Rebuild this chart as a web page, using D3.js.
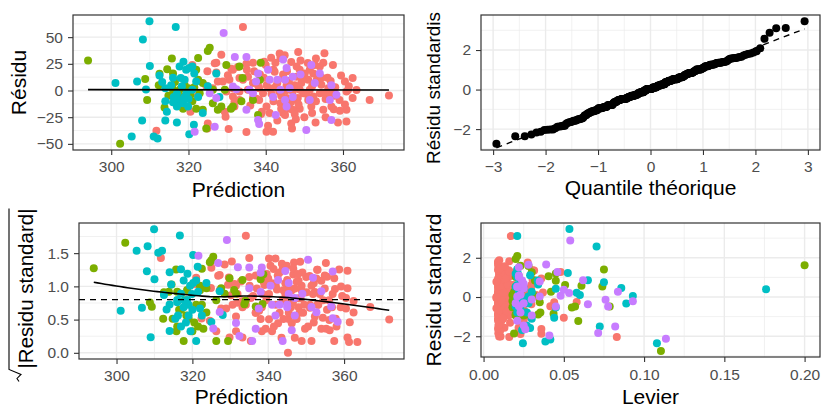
<!DOCTYPE html>
<html>
<head>
<meta charset="utf-8">
<script src="https://cdn.jsdelivr.net/npm/d3@7"></script>
<style>
  body { margin: 0; background: #fff; }
  svg text { font-family: "Liberation Sans", Arial, Helvetica, sans-serif; }
</style>
</head>
<body>
<svg id="chart" width="825" height="408"></svg>
<script>
// ---- donnees : [prediction, residu, levier] par groupe ----
const groupeA = [ // rouge
  [334.1,59.4,.017],[328.5,33.6,.0275],[321,24,.048],[311.7,-37.7,.083],[320.5,-20,.05],
  [324.9,-35.5,.036],[329.6,-24.5,.025],[330.4,-36,.023],[335,-39,.016],[340.2,-38.7,.0106],
  [341.9,-38.7,.0097],[346.8,-35.5,.0092],[352.9,-30,.013],[358.7,-30,.0218],[360.9,-29,.026],
  [360.9,-18,.026],[354.9,-18,.0157],[357.6,-17.6,.0198],[366.9,-9,.0416],[371.9,-4.7,.058],
  [362.5,11.6,.0298],[360.5,8.5,.0253],[360.9,-1,.026],[362.5,-7,.0298],[360.5,-13,.0253],
  [357,-15,.0188],[354.9,26,.0157],[355.2,35,.016],[348.4,36,.0098],[343.8,30.5,.0091],
  [342,19.5,.0096],[339.6,27,.011],[336.7,26,.0137],[335.1,19.5,.0157],[334.1,10,.017],
  [331.5,19.5,.0214],[330.6,10,.023],[327.2,26,.0305],[324.9,18,.036],[327.6,8.5,.0296],
  [326.3,2,.0328],[331.5,-5.7,.0214],[333.2,-9,.0185],[331.9,-15,.0207],[336.7,-7,.0137],
  [339.3,-2.5,.0112],[340.2,-15,.0106],[341,-21,.01],[344.5,-21,.009],[346.2,-17,.009],
  [343.8,-12,.009],[348,-9,.0096],[348.8,-17,.01],[349.2,7,.0102],[348,13,.0096],
  [348.8,19.5,.01],[350.1,16,.0108],[351,10,.0114],[352.3,16,.0126],[353.2,10,.0136],
  [354,22.6,.0145],[351.4,0.6,.0118],[349.7,-2.5,.0105],[354,-2.5,.0145],[355.3,-2.5,.0162],
  [356.2,2.2,.0175],[357.4,0.6,.0195],[359.1,-9,.0225],[351.8,-15,.0121],[346.2,3.8,.009],
  [345.4,5,.009],[344.5,11.6,.009],[342.6,3.8,.0094],[341,2,.01],[338.3,2,.012],
  [336.7,7,.0137],[335.4,0.6,.0153],[333.2,-1,.0185],[331.5,2,.0214],[329.8,-1,.0247],
  [328.9,8.5,.0266],[333.2,11.6,.0185],[335.4,13,.0153],[347,-18,.0093],[345,-23,.009],
  [351.4,19.5,.0118],[352.7,24,.013],[353.6,15,.014],[348,22.6,.0096],[348.8,0.6,.01],
  [352.3,-5.7,.0126],[354.4,5.3,.015],[347,-1,.0093],[338.3,-9,.012],[342,-10,.0096],
  [345.4,-7,.009],[350.9,25.7,.0114],[357.4,24,.0195],[361.3,0.5,.027],[359.2,-19,.0227],
  [347.5,-22,.0094],[356.1,-4.7,.0174],[357.8,-5,.02],[351,-8.8,.0114],[348.3,-7,.0097],
  [326.8,25.6,.0315],[331.1,20.5,.022],[332.8,22,.019],[335,25,.016],[330.2,14.3,.024],
  [342.3,17.5,.0095],[343.6,34.6,.009],[344.9,33,.009],[346.6,26.7,.009],[341.4,30.6,.0099],
  [340.2,4.9,.0106],[337.6,-7.7,.0127],[331.9,-10.8,.0207],[329.4,-20,.0255],[325,-31,.036],
  [340.6,-33,.0103],[346.6,-31,.009],[344,-17,.009],[322.4,-5,.044],[324.6,4.4,.037],
  [327.2,16.9,.0305],[338.5,15,.012],[350,-25,.0107],[356,12,.017],[339,-20,.0115],
  [338,5,.0123],[339.5,12,.011],[341.5,-3,.0098],[343,7,.0093],[344,-5,.009],
  [346,9,.009],[347.5,5,.0094],[348.5,-13,.0098],[349.5,10,.0104],[350.5,-3,.011],
  [352,4,.0123],[353,-10,.0133],[354.5,12,.0151],[355.5,-8,.0165],[356.8,9,.0185],
  [358,3,.0205],[359.5,14,.0233],[361.5,4,.0275],[363.5,0.5,.032],[337,18,.0133],
  [340,24,.0107],[342.5,26,.0094],[345.5,18,.009],[349,28,.0101],[353,30,.0133],
  [336,-14,.0145],[338.8,-22,.0116],[343,-28,.0093],[347.8,-27,.0095],[352,-21,.0123],
  [355.5,-25,.0165],[344.5,15,.008],[343.5,-1,.008],[346.5,-11,.008],[345.2,0,.008]
];
const groupeB = [ // vert
  [294,28,.2],[302.3,-50,.1105],[308.8,10.7,.061],[309.3,-9,.057],[312.5,15.7,.045],
  [312.3,5,.042],[313.8,-16,.0436],[314.5,20,.0405],[315.7,30,.028],[316,16,.032],
  [315.8,2,.031],[316,-3,.025],[317.7,0.6,.022],[318.4,-6,.019],[318.6,-17,.027],
  [320,2,.018],[322.5,30.5,.023],[322,19.5,.02],[322.5,10,.02],[321,-10,.018],
  [322,-17,.02],[323.7,-18,.02],[325,37,.02],[325.5,40,.021],[324.6,-35.5,.019],
  [326.3,0.6,.021],[326.3,-12,.022],[327.6,-18,.025],[328.5,-15,.026],[329.8,24,.03],
  [329.4,0.6,.028],[331.5,-15,.0354],[333.2,22.6,.045],[334,11.6,.0508],[333.7,-10,.055],
  [338,-23,.059],[338.5,10,.074],[338.7,26,.075],[336.7,-9,.0786],[323.7,7,.02],
  [322.9,-2.5,.019],[331,-17,.034],[317,-8,.022],[319,5,.019],[320.5,-4,.018],
  [316.5,8,.024],[318,-12,.021],[321.5,3,.019],[314.8,-5,.035]
];
const groupeC = [ // cyan
  [309.9,65,.0535],[316.7,59.4,.021],[308.2,47.8,.0704],[310,23,.0525],[301.1,7,.176],
  [306.7,8.5,.0858],[309,1,.093],[312.5,14,.075],[314,2,.06],[314,-10,.045],
  [314.4,-20,.044],[314,-28,.027],[308,-28,.0724],[317,-30,.029],[305.3,-43,.108],
  [311,-43,.0385],[312,-45,.0245],[320.2,-41,.0416],[321.4,-32,.024],[323.7,-21,.03],
  [317.7,22.6,.0214],[318.7,27,.021],[319.4,19.5,.021],[320.2,21,.029],[318,11.6,.021],
  [319,10,.02],[321,22.6,.02],[321.5,16,.0337],[322,8.5,.025],[317.7,-9,.02],
  [318.6,-12,.023],[319,-6,.022],[321,0.6,.028],[322.5,-6,.027],[325,4,.058],
  [327.2,16,.065],[328,-6,.0889],[316,12,.034],[316,-11,.022],[317,-15,.027],
  [319.9,-15,.021],[315.5,5,.03],[317,-3,.025],[318.3,4,.022],[320,-8,.021],
  [316.2,-6,.028],[319.5,-2,.021],[313.2,8,.045]
];
const groupeD = [ // violet
  [329.1,54,.054],[332,31.4,.039],[335,31.4,.028],[326.8,-34,.0714],[321.6,-38.7,.1136],
  [331.5,3.8,.0533],[332.4,1.2,.048],[335.8,0.6,.035],[337.5,8.5,.025],[338,16,.024],
  [340.6,19.5,.022],[341,10,.021],[341.9,-6,.02],[342.6,-23,.021],[338,-27.7,.025],
  [338.3,-31.4,.026],[335,-18,.03],[344.5,29,.022],[345.4,21,.022],[345,10,.022],
  [346.2,2.2,.023],[345,-9,.022],[345.4,-15,.023],[347,13,.025],[347,-6,.025],
  [350.5,-37,.041],[351.4,-9,.045],[351.8,24,.046],[352.7,7,.05],[357,5,.0837],
  [357,-27.7,.082],[356.6,-9,.0776],[358.3,-4,.093],[336.7,-2.5,.03],[343.8,0.6,.021],
  [343,10,.021],[325.5,-2.5,.076],[327.2,-7,.065],[354,16,.062],[349,15,.035]
];
const couleurs = ["#F8766D", "#7CAE00", "#00BFC4", "#C77CFF"];
const ordreDessin = [0, 1, 2, 3];

const sigma = 19.3;        // ecart-type residuel
const ligneRef = 0.8;      // ligne pointillee du graphe echelle-localisation

const ticksPrediction = [300, 320, 340, 360];
const ticksResidu = [-50, -25, 0, 25, 50];
const ticksQuantile = [-3, -2, -1, 0, 1, 2, 3];
const ticksStd = [-2, 0, 2];
const ticksRacine = [0, 0.5, 1, 1.5];
const ticksLevier = [0, 0.05, 0.1, 0.15, 0.2];

// ---- calculs ----
const groupes = [groupeA, groupeB, groupeC, groupeD];
let points = [];
ordreDessin.forEach(gi => {
  groupes[gi].forEach(([f, r, h]) => {
    const std = r / (sigma * Math.sqrt(1 - h));
    points.push({f: f, r: r, h: h, gi: gi, std: std, rac: Math.sqrt(Math.abs(std))});
  });
});

function qnorm(p) {
  const a = [-3.969683028665376e+01, 2.209460984245205e+02, -2.759285104469687e+02, 1.383577518672690e+02, -3.066479806614716e+01, 2.506628277459239e+00];
  const b = [-5.447609879822406e+01, 1.615858368580409e+02, -1.556989798598866e+02, 6.680131188771972e+01, -1.328068155288572e+01];
  const c = [-7.784894002430293e-03, -3.223964580411365e-01, -2.400758277161838e+00, -2.549732539343734e+00, 4.374664141464968e+00, 2.938163982698783e+00];
  const d = [7.784695709041462e-03, 3.224671290700398e-01, 2.445134137142996e+00, 3.754408661907416e+00];
  const pl = 0.02425;
  let q, r;
  if (p < pl) {
    q = Math.sqrt(-2 * Math.log(p));
    return (((((c[0]*q+c[1])*q+c[2])*q+c[3])*q+c[4])*q+c[5]) / ((((d[0]*q+d[1])*q+d[2])*q+d[3])*q+1);
  }
  if (p > 1 - pl) return -qnorm(1 - p);
  q = p - 0.5; r = q * q;
  return (((((a[0]*r+a[1])*r+a[2])*r+a[3])*r+a[4])*r+a[5])*q / (((((b[0]*r+b[1])*r+b[2])*r+b[3])*r+b[4])*r+1);
}

const n = points.length;
const stdTries = points.map(p => p.std).sort(d3.ascending);
const qq = stdTries.map((s, i) => ({t: qnorm((i + 0.5) / n), s: s}));
const y1 = d3.quantile(stdTries, 0.25), y3 = d3.quantile(stdTries, 0.75);
const x1 = qnorm(0.25), x3 = qnorm(0.75);
const qqPente = (y3 - y1) / (x3 - x1);
const qqOrig = y1 - qqPente * x1;

// loess local (poids tricube), degre 1
function loess(xs, ys, span, grille) {
  const m = xs.length, q = Math.floor(m * span);
  return grille.map(x0 => {
    const dist = xs.map(x => Math.abs(x - x0));
    const h = dist.slice().sort(d3.ascending)[q - 1];
    let sw = 0, swx = 0, swy = 0, swxx = 0, swxy = 0;
    for (let i = 0; i < m; i++) {
      const u = dist[i] / h;
      if (u >= 1) continue;
      const w = Math.pow(1 - u*u*u, 3);
      const t = xs[i] - x0;
      sw += w; swx += w * t; swy += w * ys[i]; swxx += w * t * t; swxy += w * t * ys[i];
    }
    const pente = (sw * swxy - swx * swy) / (sw * swxx - swx * swx);
    return [x0, (swy - pente * swx) / sw];
  });
}

function etendue(vals) {
  const [lo, hi] = d3.extent(vals);
  const e = (hi - lo) * 0.05;
  return [lo - e, hi + e];
}

function mineurs(majeurs, dom) {
  const pas = majeurs[1] - majeurs[0];
  const out = majeurs.map(v => v - pas / 2).concat([majeurs[majeurs.length - 1] + pas / 2]);
  return out.filter(v => v > dom[0] && v < dom[1]);
}

// ---- dessin ----
const svg = d3.select("#chart");
const defs = svg.append("defs");

function panneau(cfg) {
  const b = cfg.box;
  defs.append("clipPath").attr("id", "cell" + cfg.id)
    .append("rect").attr("x", cfg.cell[0]).attr("y", cfg.cell[1]).attr("width", cfg.cell[2]).attr("height", cfg.cell[3]);
  defs.append("clipPath").attr("id", "plot" + cfg.id)
    .append("rect").attr("x", b.l).attr("y", b.t).attr("width", b.r - b.l).attr("height", b.b - b.t);

  const g = svg.append("g").attr("clip-path", "url(#cell" + cfg.id + ")");
  const x = d3.scaleLinear().domain(cfg.xDom).range([b.l, b.r]);
  const y = d3.scaleLinear().domain(cfg.yDom).range([b.b, b.t]);

  g.append("rect").attr("x", b.l).attr("y", b.t).attr("width", b.r - b.l).attr("height", b.b - b.t).attr("fill", "#fff");

  const grille = g.append("g").attr("stroke", "#EBEBEB");
  mineurs(cfg.xTicks, cfg.xDom).forEach(v => grille.append("line").attr("x1", x(v)).attr("x2", x(v)).attr("y1", b.t).attr("y2", b.b).attr("stroke-width", 0.7));
  mineurs(cfg.yTicks, cfg.yDom).forEach(v => grille.append("line").attr("y1", y(v)).attr("y2", y(v)).attr("x1", b.l).attr("x2", b.r).attr("stroke-width", 0.7));
  cfg.xTicks.forEach(v => grille.append("line").attr("x1", x(v)).attr("x2", x(v)).attr("y1", b.t).attr("y2", b.b).attr("stroke-width", 1.4));
  cfg.yTicks.forEach(v => grille.append("line").attr("y1", y(v)).attr("y2", y(v)).attr("x1", b.l).attr("x2", b.r).attr("stroke-width", 1.4));

  const ax = g.append("g").attr("transform", "translate(0," + b.b + ")")
    .call(d3.axisBottom(x).tickValues(cfg.xTicks).tickFormat(cfg.xFmt).tickSize(5).tickPadding(cfg.xPad));
  const ay = g.append("g").attr("transform", "translate(" + b.l + ",0)")
    .call(d3.axisLeft(y).tickValues(cfg.yTicks).tickFormat(cfg.yFmt).tickSize(5).tickPadding(5));
  [ax, ay].forEach(a => {
    a.select(".domain").remove();
    a.selectAll(".tick line").attr("stroke", "#333").attr("stroke-width", 1.1);
    a.selectAll(".tick text").attr("fill", "#4D4D4D").style("font-size", "15.5px");
  });

  g.append("text").attr("x", (b.l + b.r) / 2).attr("y", cfg.xTitleY)
    .attr("text-anchor", "middle").style("font-size", "21px").attr("fill", "#000").text(cfg.xTitle);

  const marques = g.append("g").attr("clip-path", "url(#plot" + cfg.id + ")");
  const fin = () => g.append("rect").attr("x", b.l).attr("y", b.t).attr("width", b.r - b.l).attr("height", b.b - b.t)
    .attr("fill", "none").attr("stroke", "#333").attr("stroke-width", 1.2);
  return {g: g, marques: marques, x: x, y: y, fin: fin, box: b};
}

function titreY(g, xBase, yPos, texte, ancre, taille) {
  g.append("text").attr("transform", "translate(" + xBase + "," + yPos + ") rotate(-90)")
    .attr("text-anchor", ancre).style("font-size", (taille || 21) + "px").attr("fill", "#000").text(texte);
}

const fmtEntier = d3.format("d");
const fmt1 = d3.format(".1f");
const fmt2 = d3.format(".2f");

// 1. residus vs prediction
const p1 = panneau({
  id: 1, cell: [0, 0, 412, 204], box: {l: 73, r: 404, t: 15, b: 150},
  xDom: etendue(points.map(p => p.f)), yDom: etendue(points.map(p => p.r)),
  xTicks: ticksPrediction, yTicks: ticksResidu, xFmt: fmtEntier, yFmt: fmtEntier, xPad: 6,
  xTitle: "Prédiction", xTitleY: 197
});
titreY(p1.g, 26, (p1.box.t + p1.box.b) / 2, "Résidu", "middle");
p1.marques.selectAll("circle").data(points).join("circle")
  .attr("cx", d => p1.x(d.f)).attr("cy", d => p1.y(d.r)).attr("r", 4).attr("fill", d => couleurs[d.gi]);
{
  const mx = d3.mean(points, p => p.f), my = d3.mean(points, p => p.r);
  const pente = d3.sum(points, p => (p.f - mx) * (p.r - my)) / d3.sum(points, p => (p.f - mx) * (p.f - mx));
  const ext = d3.extent(points, p => p.f);
  p1.marques.append("path").attr("d", d3.line()(ext.map(v => [p1.x(v), p1.y(my + pente * (v - mx))])))
    .attr("stroke", "#000").attr("stroke-width", 1.6).attr("fill", "none");
}
p1.fin();

// 2. QQ plot
const p2 = panneau({
  id: 2, cell: [412, 0, 413, 204], box: {l: 481, r: 820, t: 15, b: 150},
  xDom: etendue(qq.map(d => d.t)), yDom: etendue(qq.map(d => d.s)),
  xTicks: ticksQuantile, yTicks: ticksStd, xFmt: fmtEntier, yFmt: fmtEntier, xPad: 6,
  xTitle: "Quantile théorique", xTitleY: 195
});
titreY(p2.g, 440, 164, "Résidu standardis", "start", 19);
{
  const ext = d3.extent(qq, d => d.t);
  p2.marques.append("path").attr("d", d3.line()(ext.map(v => [p2.x(v), p2.y(qqOrig + qqPente * v)])))
    .attr("stroke", "#000").attr("stroke-width", 1.4).attr("stroke-dasharray", "6,5").attr("fill", "none");
}
p2.marques.selectAll("circle").data(qq).join("circle")
  .attr("cx", d => p2.x(d.t)).attr("cy", d => p2.y(d.s)).attr("r", 4).attr("fill", "#000");
p2.fin();

// 3. echelle-localisation
const p3 = panneau({
  id: 3, cell: [0, 204, 412, 204], box: {l: 79, r: 404, t: 223, b: 359},
  xDom: etendue(points.map(p => p.f)), yDom: etendue(points.map(p => p.rac)),
  xTicks: ticksPrediction, yTicks: ticksRacine, xFmt: fmtEntier, yFmt: fmt1, xPad: 6,
  xTitle: "Prédiction", xTitleY: 404
});
{
  // titre avec racine carree
  const cy = (p3.box.t + p3.box.b) / 2;
  const t = p3.g.append("g").attr("transform", "translate(33," + cy + ") rotate(-90)");
  const txt = t.append("text").style("font-size", "20.5px").attr("fill", "#000").text("|Residu standard|");
  const larg = txt.node().getComputedTextLength();
  const rad = 13, total = rad + larg, x0 = -total / 2 - 4;
  txt.attr("x", x0 + rad);
  t.append("path").attr("d", "M" + x0 + ",-14 L" + (x0 + 3) + ",-16 L" + (x0 + 7) + ",-12 L" + (x0 + 12) + ",-24 L" + (x0 + total) + ",-24")
    .attr("stroke", "#000").attr("stroke-width", 1.1).attr("fill", "none");
}
p3.marques.selectAll("circle").data(points).join("circle")
  .attr("cx", d => p3.x(d.f)).attr("cy", d => p3.y(d.rac)).attr("r", 4).attr("fill", d => couleurs[d.gi]);
p3.marques.append("line").attr("x1", p3.box.l).attr("x2", p3.box.r).attr("y1", p3.y(ligneRef)).attr("y2", p3.y(ligneRef))
  .attr("stroke", "#000").attr("stroke-width", 1.4).attr("stroke-dasharray", "6,5");
{
  const ext = d3.extent(points, p => p.f);
  const grille = d3.range(80).map(i => ext[0] + (ext[1] - ext[0]) * i / 79);
  const lisse = loess(points.map(p => p.f), points.map(p => p.rac), 0.75, grille);
  p3.marques.append("path").attr("d", d3.line().x(d => p3.x(d[0])).y(d => p3.y(d[1]))(lisse))
    .attr("stroke", "#000").attr("stroke-width", 1.6).attr("fill", "none");
}
p3.fin();

// 4. residus standardises vs levier
const p4 = panneau({
  id: 4, cell: [412, 204, 413, 204], box: {l: 481, r: 820, t: 223, b: 357},
  xDom: etendue(points.map(p => p.h)), yDom: etendue(points.map(p => p.std)),
  xTicks: ticksLevier, yTicks: ticksStd, xFmt: fmt2, yFmt: fmtEntier, xPad: 7,
  xTitle: "Levier", xTitleY: 404
});
titreY(p4.g, 441, (p4.box.t + p4.box.b) / 2, "Residu standard", "middle");
p4.marques.selectAll("circle").data(points).join("circle")
  .attr("cx", d => p4.x(d.h)).attr("cy", d => p4.y(d.std)).attr("r", 4).attr("fill", d => couleurs[d.gi]);
p4.fin();
</script>
</body>
</html>
